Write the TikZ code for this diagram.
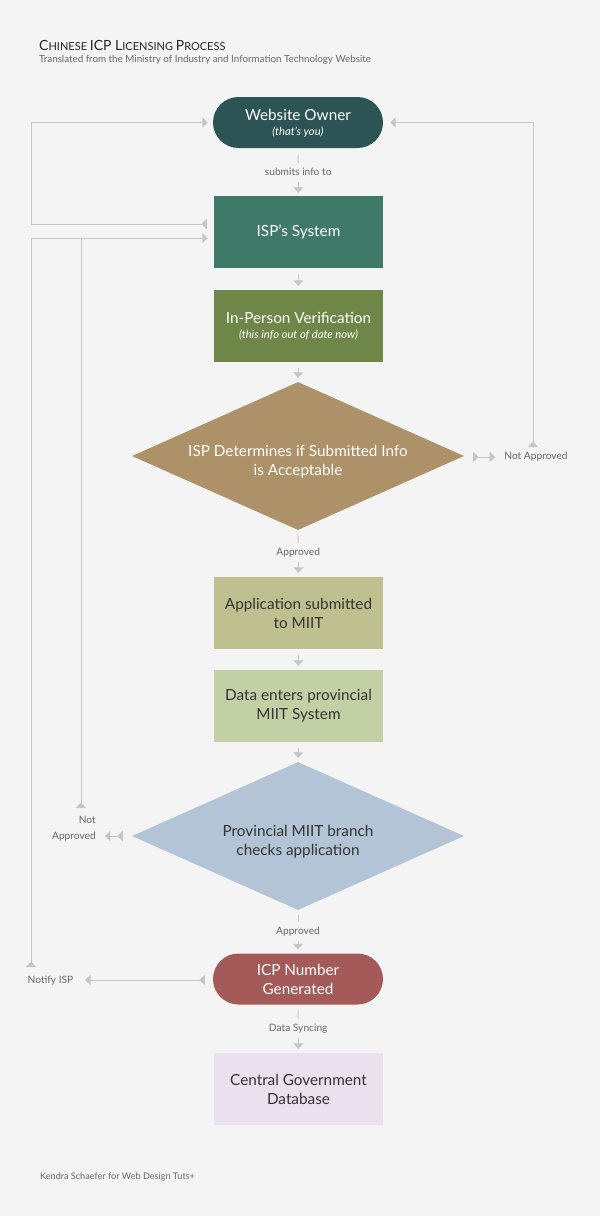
\documentclass[tikz,border=0pt]{standalone}
\usepackage{fontspec}
\setmainfont{Lato}
\usetikzlibrary{shapes.geometric,arrows.meta,calc}
\definecolor{bg}{HTML}{F4F4F4}
\definecolor{lin}{HTML}{C6C6C6}
\definecolor{lbl}{HTML}{666666}
\definecolor{cOwner}{HTML}{2D5454}
\definecolor{cIsp}{HTML}{3F7A68}
\definecolor{cPers}{HTML}{6E8647}
\definecolor{cDec}{HTML}{AD9168}
\definecolor{cApp}{HTML}{BEC18F}
\definecolor{cData}{HTML}{C3D0A6}
\definecolor{cProv}{HTML}{B2C4D6}
\definecolor{cIcp}{HTML}{A35A58}
\definecolor{cCent}{HTML}{EBE0EE}
\definecolor{dtext}{HTML}{333333}
\newcommand{\subnote}[1]{{\fontsize{11.2}{12}\selectfont\itshape #1}}
\begin{document}
\begin{tikzpicture}[x=1pt,y=-1pt,
  base/.style={inner sep=0pt, align=center, font=\fontsize{15.3}{19}\selectfont},
  stadium/.style={base, rectangle, rounded corners=25.5pt, minimum width=170pt, minimum height=51pt, text=white},
  box/.style={base, rectangle, minimum width=169pt, minimum height=72pt},
  decision/.style={inner sep=0pt, diamond, aspect=2.24, minimum width=332pt, minimum height=148pt},
  dlabel/.style={base},
  conn/.style={draw=lin, line width=1pt},
  tipA/.style={-{Triangle[width=10pt,length=5.5pt,color=lin]}},
  tipB/.style={{Triangle[reversed,width=10pt,length=5.5pt,color=lin]}-{Triangle[width=10pt,length=5.5pt,color=lin]}},
  tipS/.style={{Triangle[reversed,width=10pt,length=5.5pt,color=lin]}-},
  lab/.style={inner xsep=2pt, inner ysep=0pt, minimum height=19pt, fill=bg, text=lbl, font=\fontsize{10.2}{11}\selectfont},
  side/.style={inner sep=0pt, text=lbl, font=\fontsize{10.2}{16}\selectfont}
]
\fill[bg] (0,0) rectangle (600,1216);
\useasboundingbox (0,0) rectangle (600,1216);

% title
\node[anchor=base west, inner sep=0pt, text=black!85] (title) at (39,50)
  {\fontsize{14}{14}\selectfont C\fontsize{11}{14}\selectfont HINESE \fontsize{14}{14}\selectfont ICP L\fontsize{11}{14}\selectfont ICENSING \fontsize{14}{14}\selectfont P\fontsize{11}{14}\selectfont ROCESS};
\node[anchor=base west, inner sep=0pt, text=lbl, font=\fontsize{9.8}{10}\selectfont] (sub) at (39,62.5)
  {Translated from the Ministry of Industry and Information Technology Website};
\node[anchor=base west, inner sep=0pt, text=lbl, font=\fontsize{9.1}{10}\selectfont] (foot) at (40,1179)
  {Kendra Schaefer for Web Design Tuts+};

% main nodes
\node[stadium, fill=cOwner] (owner) at (298,122.5) {};
\node[base, text=white] (ownert) at ($(owner.center)+(0,1)$) {Website Owner\\[-4pt]\subnote{(that’s you)}};
\node[box, fill=cIsp, text=white] (isp) at (298.5,232) {ISP’s System};
\node[box, fill=cPers, text=white] (pers) at (298.5,326) {In-Person Verification\\[-4pt]\subnote{(this info out of date now)}};
\node[decision, fill=cDec] (dec1) at (298,456) {};
\node[dlabel, text=white] (dec1t) at ($(dec1.center)+(0,6)$) {ISP Determines if Submitted Info\\is Acceptable};
\node[box, fill=cApp, text=dtext] (app) at (298.5,613) {Application submitted\\to MIIT};
\node[box, fill=cData, text=dtext] (data) at (298.5,706) {Data enters provincial\\MIIT System};
\node[decision, fill=cProv] (dec2) at (298,836) {};
\node[dlabel, text=dtext] (dec2t) at ($(dec2.center)+(0,6)$) {Provincial MIIT branch\\checks application};
\node[stadium, fill=cIcp] (icp) at (298,979) {ICP Number\\Generated};
\node[box, fill=cCent, text=dtext] (cent) at (298.5,1089) {Central Government\\Database};

% side labels
\node[side] (na1) at (536,457) {Not Approved};
\node[side, align=right, anchor=east] (na2) at (96,829) {Not\\Approved};
\node[side, anchor=east] (notify) at (73.5,980.5) {Notify ISP};

% main flow
\draw[conn, tipA] ($(owner.south)+(0,7)$) -- node[lab, pos=0.45] {submits info to} ($(isp.north)+(0,-3)$);
\draw[conn, tipA] ($(isp.south)+(0,6)$) -- ($(pers.north)+(0,-4)$);
\draw[conn, tipA] ($(pers.south)+(0,6)$) -- ($(dec1.north)+(0,-4)$);
\draw[conn, tipA] ($(dec1.south)+(0,5)$) -- node[lab, pos=0.47] {Approved} ($(app.north)+(0,-4)$);
\draw[conn, tipA] ($(app.south)+(0,6)$) -- ($(data.north)+(0,-4)$);
\draw[conn, tipA] ($(data.south)+(0,6)$) -- ($(dec2.north)+(0,-4)$);
\draw[conn, tipA] ($(dec2.south)+(0,5)$) -- node[lab, pos=0.47] {Approved} ($(icp.north)+(0,-4)$);
\draw[conn, tipA] ($(icp.south)+(0,6)$) -- node[lab, pos=0.47] {Data Syncing} ($(cent.north)+(0,-4)$);

% side loops
\coordinate (lA) at (31,224);
\coordinate (lAt) at (31,122.5);
\draw[conn, tipB] ($(isp.west)+(-7,-8)$) -- (lA) -- (lAt) -- ($(owner.west)+(-5,0)$);

\coordinate (nTop) at (31,967);
\coordinate (lB) at (31,238);
\draw[conn, tipB] (nTop) -- (lB) -- ($(isp.west)+(-6,6)$);
\coordinate (naTop) at (81,808);
\draw[conn, tipS] (naTop) -- (naTop |- lB);

\draw[conn, tipB] ($(icp.west)+(-8,1)$) -- ($(notify.east)+(11.5,-0.5)$);
\draw[conn, tipB] ($(dec2.west)+(-9,0)$) -- ($(dec2.west)+(-27,0)$);
\draw[conn, tipB] ($(dec1.east)+(9,1)$) -- ($(dec1.east)+(31,1)$);

\coordinate (rTop) at (533,447);
\draw[conn, tipB] (rTop) -- (rTop |- lAt) -- ($(owner.east)+(7,0)$);
\end{tikzpicture}
\end{document}
